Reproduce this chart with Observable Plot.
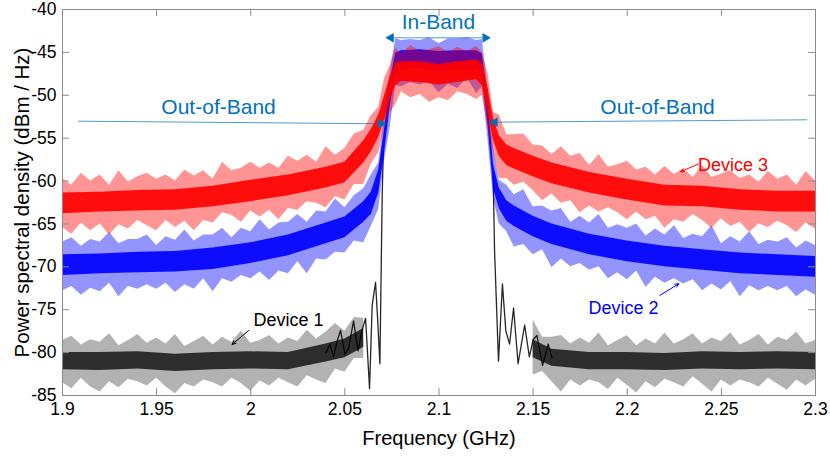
<!DOCTYPE html>
<html><head><meta charset="utf-8">
<script src="https://cdn.jsdelivr.net/npm/d3@7"></script>
<script src="https://cdn.jsdelivr.net/npm/@observablehq/plot@0.6"></script>
<style>body{margin:0;background:#fff}</style>
</head><body><div id="chart"></div>
<script>
// ---- Data ----
const xTicks = [1.9,1.95,2,2.05,2.1,2.15,2.2,2.25,2.3];
const yTicks = [-85,-80,-75,-70,-65,-60,-55,-50,-45,-40];

const freq = [1.900,1.905,1.910,1.915,1.920,1.925,1.930,1.935,1.940,1.945,1.950,1.955,1.960,1.965,1.970,1.975,1.980,1.985,1.990,1.995,2.000,2.005,2.010,2.015,2.020,2.025,2.030,2.035,2.040,2.045,2.050,2.055,2.060,2.064,2.068,2.071,2.074,2.077,2.080,2.085,2.090,2.095,2.100,2.105,2.110,2.115,2.120,2.123,2.126,2.129,2.132,2.136,2.140,2.145,2.150,2.155,2.160,2.165,2.170,2.175,2.180,2.185,2.190,2.195,2.200,2.205,2.210,2.215,2.220,2.225,2.230,2.235,2.240,2.245,2.250,2.255,2.260,2.265,2.270,2.275,2.280,2.285,2.290,2.295,2.300];
const coreFreq = [1.90,1.92,1.94,1.96,1.98,2.00,2.02,2.04,2.05,2.06,2.064,2.068,2.071,2.074,2.077,2.080,2.09,2.10,2.11,2.12,2.123,2.126,2.129,2.132,2.136,2.140,2.15,2.16,2.18,2.20,2.22,2.24,2.26,2.28,2.30];

// Device 3 (red)
const dev3SpikeHi = [-59.7,-60.5,-59.1,-60.0,-59.3,-60.5,-58.8,-60.1,-59.5,-59.1,-59.8,-59.3,-60.0,-58.7,-59.4,-58.8,-59.8,-57.8,-58.8,-58.5,-57.8,-58.5,-57.9,-58.5,-57.1,-57.7,-57.0,-57.8,-56.0,-57.0,-56.2,-54.5,-54.1,-52.4,-51.4,-48.1,-46.6,-44.5,-45.2,-44.2,-44.9,-44.7,-44.3,-45.0,-44.4,-44.9,-44.3,-45.0,-47.4,-52.0,-52.3,-54.6,-54.6,-54.5,-55.8,-55.9,-56.9,-56.0,-57.1,-56.8,-58.2,-56.9,-58.4,-58.1,-57.7,-58.7,-58.4,-59.3,-58.3,-59.2,-58.6,-59.6,-58.2,-59.6,-59.2,-58.8,-59.7,-59.3,-60.1,-58.9,-59.8,-59.3,-60.5,-58.9,-60.0];
const dev3SpikeLo = [-65.4,-66.2,-64.9,-65.8,-65.0,-66.3,-65.1,-65.6,-64.6,-65.2,-65.8,-64.6,-65.4,-64.7,-65.8,-64.6,-64.9,-63.7,-64.0,-64.8,-63.5,-64.2,-63.4,-64.5,-63.2,-63.4,-62.4,-62.6,-63.1,-61.8,-62.2,-60.4,-60.4,-58.0,-56.7,-53.8,-52.0,-51.1,-49.6,-50.3,-49.9,-50.8,-50.3,-50.6,-49.6,-49.9,-50.5,-50.0,-53.7,-56.6,-59.7,-59.7,-60.5,-60.1,-61.1,-62.3,-61.5,-62.6,-62.3,-63.7,-62.9,-63.6,-63.1,-63.7,-64.5,-63.6,-64.5,-64.1,-65.5,-64.5,-64.8,-63.9,-64.6,-65.5,-64.4,-65.3,-64.8,-66.0,-65.0,-65.4,-64.7,-65.2,-66.0,-64.9,-65.6];
const dev3CoreHi = [-61.4,-61.3,-61.1,-61.0,-60.6,-59.9,-59.3,-58.4,-57.8,-55.3,-54.0,-52.3,-50.1,-47.9,-46.3,-46.1,-46.1,-46.4,-46.1,-45.9,-46.3,-49.1,-52.7,-54.7,-55.8,-56.2,-57.1,-57.9,-59.0,-59.8,-60.5,-60.6,-61.0,-61.2,-61.2];
const dev3CoreLo = [-63.8,-63.6,-63.5,-63.4,-63.0,-62.4,-61.7,-60.8,-60.2,-57.9,-56.6,-54.9,-52.9,-50.5,-48.9,-48.4,-48.5,-48.8,-48.5,-48.2,-48.9,-51.9,-55.3,-57.1,-58.2,-58.6,-59.5,-60.3,-61.4,-62.2,-62.9,-63.0,-63.4,-63.6,-63.6];

// Device 2 (blue)
const dev2SpikeHi = [-67.1,-66.6,-67.6,-66.8,-67.1,-66.0,-67.3,-66.8,-66.8,-66.3,-67.5,-66.5,-66.9,-65.7,-67.0,-66.3,-66.3,-65.5,-66.6,-65.5,-65.9,-64.5,-65.7,-64.9,-64.8,-63.9,-64.8,-63.5,-63.6,-62.1,-63.1,-61.7,-60.9,-59.3,-57.9,-52.5,-47.5,-43.4,-43.6,-43.5,-43.6,-43.3,-44.0,-43.4,-43.4,-43.3,-43.6,-43.5,-49.3,-56.2,-59.9,-60.5,-61.6,-61.0,-63.0,-62.9,-63.5,-63.2,-64.8,-64.1,-64.9,-63.9,-65.5,-65.1,-65.5,-65.0,-66.4,-65.6,-66.3,-65.2,-66.7,-66.2,-66.5,-65.2,-67.3,-66.5,-67.1,-65.9,-67.4,-66.9,-67.1,-66.6,-67.8,-67.0,-67.5];
const dev2SpikeLo = [-72.8,-72.3,-73.3,-72.5,-72.9,-71.9,-73.5,-72.3,-72.6,-72.1,-72.6,-71.9,-73.0,-72.1,-72.6,-71.4,-72.9,-71.4,-71.8,-71.0,-71.4,-70.6,-71.6,-70.5,-70.8,-69.4,-70.8,-69.1,-69.2,-68.3,-68.4,-67.0,-67.2,-65.3,-63.3,-57.7,-53.9,-48.9,-49.0,-48.5,-48.8,-48.4,-49.7,-48.7,-49.2,-48.0,-49.8,-49.0,-55.1,-62.0,-65.0,-65.9,-67.7,-67.4,-68.6,-68.0,-70.1,-69.1,-70.0,-69.6,-70.4,-70.0,-71.4,-70.7,-71.5,-70.5,-72.4,-71.2,-71.9,-71.4,-72.0,-71.5,-72.8,-72.0,-72.7,-71.7,-73.5,-72.2,-72.8,-72.3,-72.8,-72.3,-73.5,-72.7,-73.3];
const dev2CoreHi = [-68.6,-68.5,-68.3,-68.2,-67.8,-67.2,-66.3,-64.9,-64.2,-62.4,-61.3,-58.7,-54.1,-48.6,-45.1,-44.8,-44.7,-44.9,-44.8,-44.8,-45.2,-50.6,-58.1,-60.8,-62.3,-62.9,-64.1,-65.0,-66.2,-67.0,-67.6,-68.0,-68.4,-68.6,-68.8];
const dev2CoreLo = [-71.0,-70.8,-70.7,-70.6,-70.3,-69.6,-68.7,-67.3,-66.6,-64.8,-63.9,-61.4,-56.9,-51.4,-47.5,-47.0,-46.9,-47.2,-47.0,-47.0,-47.6,-53.4,-60.9,-63.2,-64.7,-65.3,-66.5,-67.4,-68.6,-69.4,-70.0,-70.4,-70.8,-71.0,-71.2];

// Device 1 (black): noise band outside the band edges, detailed trace near the edges
const dev1SpikeHi = [-78.6,-78.1,-79.1,-78.5,-78.8,-77.8,-79.2,-78.6,-77.9,-78.9,-78.3,-79.0,-77.9,-79.3,-78.7,-78.1,-79.1,-78.2,-78.8,-77.5,-78.9,-78.6,-78.0,-79.0,-78.3,-78.7,-77.4,-78.4,-77.6,-76.6,-77.5,-75.9,-76.0,
  null,null,null,null,null,null,null,null,null,null,null,null,null,null,null,null,null,null,null,null,null,
  -76.2,-78.2,-78.2,-78.0,-79.0,-78.3,-78.9,-77.7,-79.2,-78.6,-78.0,-79.2,-78.4,-79.0,-77.7,-79.0,-78.5,-77.8,-79.0,-78.3,-78.7,-77.7,-79.1,-78.6,-77.9,-79.1,-78.2,-78.6,-77.6,-79.0,-78.6];
const dev1SpikeLo = [-83.5,-84.2,-83.0,-84.0,-84.6,-83.4,-84.1,-83.1,-83.4,-83.9,-83.0,-84.0,-84.8,-83.6,-84.0,-83.2,-83.5,-84.0,-83.0,-83.6,-84.5,-83.3,-83.9,-83.0,-83.5,-84.0,-82.7,-83.2,-83.6,-81.9,-82.3,-80.7,-80.7,
  null,null,null,null,null,null,null,null,null,null,null,null,null,null,null,null,null,null,null,null,null,
  -82.6,-82.2,-83.4,-84.6,-83.2,-83.9,-83.2,-83.5,-84.3,-83.0,-83.8,-84.7,-83.4,-84.1,-83.1,-83.5,-84.0,-82.8,-83.7,-84.6,-83.2,-83.9,-83.2,-83.5,-84.0,-83.0,-83.7,-84.4,-83.2,-83.9,-83.1];
const dev1CoreHi = [-80.0,-80.0,-79.9,-80.2,-80.0,-79.9,-80.0,-79.0,-78.4,-77.2,
  null,null,null,null,null,null,null,null,null,null,null,null,null,null,null,null,
  -78.5,-79.6,-80.0,-80.0,-80.1,-79.9,-80.0,-79.9,-80.0];
const dev1CoreLo = [-82.0,-82.1,-81.9,-82.2,-82.0,-81.9,-82.0,-81.1,-80.6,-79.4,
  null,null,null,null,null,null,null,null,null,null,null,null,null,null,null,null,
  -80.6,-81.6,-82.0,-82.0,-82.1,-81.9,-82.0,-81.9,-82.0];
const dev1LeftFreq = [2.040,2.042,2.044,2.046,2.0477,2.050,2.052,2.0546,2.057,2.059,2.061,2.0631,2.0645,2.0663,2.0675,2.0686,2.0698,2.0704];
const dev1Left = [-80.0,-79.0,-80.5,-78.6,-77.4,-80.2,-79.5,-76.3,-79.8,-77.5,-76.0,-84.2,-74.5,-71.8,-76.5,-81.3,-62.0,-56.5];
const dev1RightFreq = [2.1288,2.1295,2.1316,2.1337,2.1355,2.1375,2.1396,2.142,2.1455,2.148,2.150,2.152,2.155,2.158,2.160];
const dev1Right = [-59.5,-68.0,-81.0,-72.0,-77.5,-79.0,-74.8,-81.3,-76.8,-80.5,-78.5,-78.0,-81.5,-79.0,-80.6];

// Annotations (data units)
const bandText = ["In-Band","Out-of-Band","Out-of-Band"];
const bandTextX = [2.0997,1.9829,2.2161];
const bandTextY = [-41.5,-51.35,-51.35];
// arrow lines (tail -> head); heads listed separately with their pointing direction
const bandLineX1 = [2.0760,1.9083,2.2956];
const bandLineY1 = [-43.3,-53.02,-52.86];
const bandLineX2 = [2.1231,2.0680,2.1309];
const bandLineY2 = [-43.3,-53.32,-53.13];
const bandHeadX = [2.0745,2.1246,2.0692,2.1297];
const bandHeadY = [-43.3,-43.3,-53.32,-53.13];
const bandHeadDir = ["left","right","right","left"];
const deviceNames = ["Device 1","Device 2","Device 3"];
const deviceLabelX = [2.020,2.198,2.2562];
const deviceLabelY = [-76.25,-74.85,-58.2];
const deviceArrowX1 = [1.999,2.2173,2.2380];
const deviceArrowY1 = [-77.41,-73.33,-58.0];
const deviceArrowX2 = [1.9901,2.2274,2.2283];
const deviceArrowY2 = [-79.04,-71.97,-58.9];
const xLabel = "Frequency (GHz)";
const yLabel = "Power spectral density (dBm / Hz)";

// ---- Build ----
const fi = d3.range(freq.length);
const ci = d3.range(coreFreq.length);
const AX = "#8a8a8a";
const ANN = "#0072BD";
const DEVC = ["#000000","#0000ff","#ff0000"];

function band(hi, lo, color, op) {
  return Plot.areaY(fi, {x: i => freq[i], y1: i => lo[i], y2: i => hi[i], fill: color, fillOpacity: op, curve: "linear"});
}
function core(hi, lo, color, op) {
  return Plot.areaY(ci, {x: i => coreFreq[i], y1: i => lo[i], y2: i => hi[i], fill: color, fillOpacity: op, curve: "linear"});
}

const chart = Plot.plot({
  width: 830, height: 457,
  marginLeft: 62, marginRight: 15, marginTop: 9, marginBottom: 62,
  style: {fontFamily: "'Liberation Sans', Arial, Helvetica, sans-serif", fontSize: "17.5px", color: "#000", background: "#fff"},
  x: {domain: [1.9, 2.3]},
  y: {domain: [-85, -40]},
  marks: [
    // Device 1
    band(dev1SpikeHi, dev1SpikeLo, "#000", 0.3),
    core(dev1CoreHi, dev1CoreLo, "#000", 0.75),
    Plot.line(dev1LeftFreq, {x: d => d, y: (d, i) => dev1Left[i], stroke: "#000", strokeWidth: 1.3, strokeOpacity: 0.85}),
    Plot.line(dev1RightFreq, {x: d => d, y: (d, i) => dev1Right[i], stroke: "#000", strokeWidth: 1.3, strokeOpacity: 0.85}),
    // Device 2
    band(dev2SpikeHi, dev2SpikeLo, "#0000ff", 0.42),
    core(dev2CoreHi, dev2CoreLo, "#0000ff", 0.92),
    // Device 3
    band(dev3SpikeHi, dev3SpikeLo, "#ff0000", 0.42),
    core(dev3CoreHi, dev3CoreLo, "#ff0000", 0.92),
    // frame + inward ticks
    Plot.frame({stroke: AX}),
    Plot.ruleX(xTicks, {x: d => d, y1: -85, y2: -84.2, stroke: AX}),
    Plot.ruleX(xTicks, {x: d => d, y1: -40, y2: -40.8, stroke: AX}),
    Plot.ruleY(yTicks, {y: d => d, x1: 1.9, x2: 1.9037, stroke: AX}),
    Plot.ruleY(yTicks, {y: d => d, x1: 2.2963, x2: 2.3, stroke: AX}),
    Plot.axisX(xTicks, {anchor: "bottom", tickSize: 0, tickPadding: 7, tickFormat: d => String(d), label: null, fontSize: 17.5}),
    Plot.axisY(yTicks, {anchor: "left", tickSize: 0, tickPadding: 6, tickFormat: d => String(d), label: null, fontSize: 17.5}),
    Plot.text([xLabel], {frameAnchor: "bottom", dy: 43.5, text: d => d, fontSize: 20, lineAnchor: "middle", textAnchor: "middle"}),
    Plot.text([yLabel], {frameAnchor: "left", dx: -40.5, rotate: -90, text: d => d, fontSize: 20.5, lineAnchor: "middle", textAnchor: "middle"}),
    // annotations
    Plot.link(bandLineX1, {x1: d => d, y1: (d, i) => bandLineY1[i], x2: (d, i) => bandLineX2[i], y2: (d, i) => bandLineY2[i], stroke: ANN, strokeWidth: 1, strokeOpacity: 0.7}),
    Plot.dot(bandHeadX, {x: d => d, y: (d, i) => bandHeadY[i], symbol: "triangle", r: 3.6, fill: ANN, stroke: "none", rotate: (d, i) => bandHeadDir[i] === "left" ? -90 : 90}),
    Plot.text(bandText, {x: (d, i) => bandTextX[i], y: (d, i) => bandTextY[i], text: d => d, fill: ANN, fontSize: 21, lineAnchor: "middle"}),
    Plot.arrow(deviceArrowX1, {x1: d => d, y1: (d, i) => deviceArrowY1[i], x2: (d, i) => deviceArrowX2[i], y2: (d, i) => deviceArrowY2[i], stroke: (d, i) => DEVC[i], strokeWidth: 1, headLength: 6, headAngle: 50}),
    Plot.text(deviceNames, {x: (d, i) => deviceLabelX[i], y: (d, i) => deviceLabelY[i], text: d => d, fill: (d, i) => DEVC[i], fontSize: 18, lineAnchor: "middle"})
  ]
});
document.getElementById("chart").appendChild(chart);
</script>
</body></html>
